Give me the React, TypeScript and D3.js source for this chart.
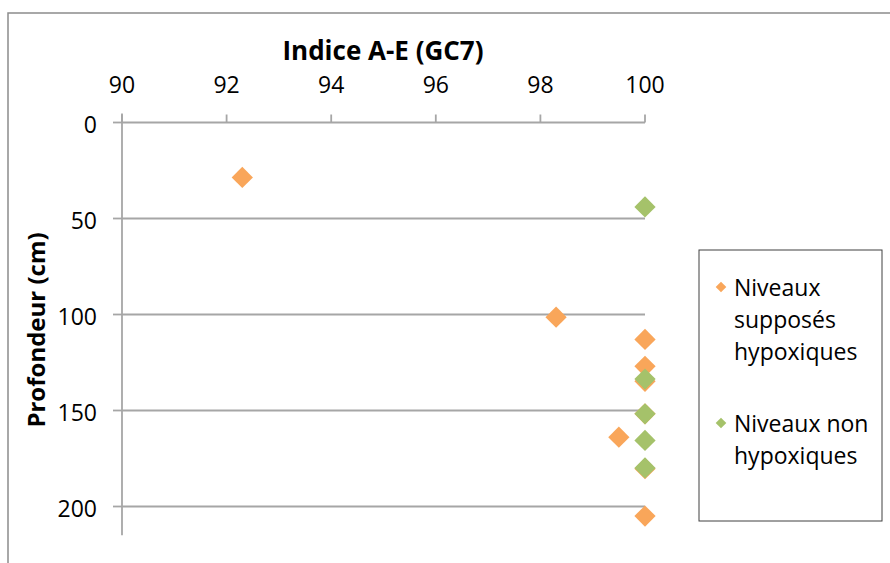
import React from "react";
import * as d3 from "d3";

// Sample depth (cm) and A-E index values for the GC7 core
const hypoxIndex = [92.3, 98.3, 100, 100, 100, 100, 99.5, 100, 100];
const hypoxDepth = [28.6, 101.4, 113, 127, 134.8, 151.7, 163.9, 180.3, 205];
const nonHypoxIndex = [100, 100, 100, 100, 100];
const nonHypoxDepth = [44, 133.6, 151.7, 165.6, 179.9];

const xTicks = [90, 92, 94, 96, 98, 100];
const yTicks = [0, 50, 100, 150, 200];

const seriesNames = ["Niveaux supposés hypoxiques", "Niveaux non hypoxiques"];
const legendLines = [["Niveaux", "supposés", "hypoxiques"], ["Niveaux non", "hypoxiques"]];

const ORANGE = "#F9A65A";
const GREEN = "#A5C26A";
const GRID = "#A6A6A6";
const FONT = "'Open Sans', 'Liberation Sans', sans-serif";

export default function App() {
  const width = 890;
  const height = 563;
  const x = d3.scaleLinear().domain([90, 100]).range([122, 645]);
  const y = d3.scaleLinear().domain([0, 215]).range([122.5, 535.3]);

  const diamond = d3.symbol().type(d3.symbolDiamond2).size(288)();
  const smallDiamond = d3.symbol().type(d3.symbolDiamond2).size(72)();

  const hypox = hypoxIndex.map((v, i) => ({ x: v, y: hypoxDepth[i] }));
  const nonHypox = nonHypoxIndex.map((v, i) => ({ x: v, y: nonHypoxDepth[i] }));

  const x0 = x(90);
  const x1 = x(100);
  const yAxisPos = y(0);

  return (
    <svg
      width={width}
      height={height}
      style={{ position: "absolute", left: 0, top: 0, background: "#fff" }}
    >
      <rect x={0} y={0} width={width} height={height} fill="#fff" />
      {/* chart frame */}
      <rect x={8} y={13} width={width} height={height} fill="none" stroke="#8C8C8C" strokeWidth={1.5} />

      {/* horizontal gridlines */}
      {yTicks.slice(1).map((t) => (
        <line key={"g" + t} x1={x0} x2={x1} y1={y(t)} y2={y(t)} stroke={GRID} strokeWidth={1.8} />
      ))}

      {/* x axis along the top */}
      <line x1={x0} x2={x1} y1={yAxisPos} y2={yAxisPos} stroke={GRID} strokeWidth={1.8} />
      {xTicks.map((t) => (
        <g key={"x" + t}>
          <line x1={x(t)} x2={x(t)} y1={yAxisPos - 8} y2={yAxisPos} stroke={GRID} strokeWidth={1.8} />
          <text x={x(t)} y={93} textAnchor="middle" fontFamily={FONT} fontSize={23} fill="#000">
            {t}
          </text>
        </g>
      ))}

      {/* y axis */}
      <line x1={x0} x2={x0} y1={yAxisPos - 9} y2={y(215)} stroke={GRID} strokeWidth={1.8} />
      {yTicks.map((t) => (
        <g key={"y" + t}>
          <line x1={x0 - 9} x2={x0} y1={y(t)} y2={y(t)} stroke={GRID} strokeWidth={1.8} />
          <text x={97} y={y(t) + 10} textAnchor="end" fontFamily={FONT} fontSize={23} fill="#000">
            {t}
          </text>
        </g>
      ))}

      {/* titles */}
      <text x={383} y={60} textAnchor="middle" fontFamily={FONT} fontSize={26} fontWeight="bold" fill="#000">
        Indice A-E (GC7)
      </text>
      <text
        transform={`translate(45, 330) rotate(-90)`}
        textAnchor="middle"
        fontFamily={FONT}
        fontSize={24}
        fontWeight="bold"
        fill="#000"
      >
        Profondeur (cm)
      </text>

      {/* data points */}
      <g>
        {hypox.map((d, i) => (
          <path key={"h" + i} d={diamond} transform={`translate(${x(d.x)},${y(d.y)})`} fill={ORANGE} />
        ))}
      </g>
      <g>
        {nonHypox.map((d, i) => (
          <path key={"n" + i} d={diamond} transform={`translate(${x(d.x)},${y(d.y)})`} fill={GREEN} />
        ))}
      </g>

      {/* legend */}
      <g>
        <rect x={699} y={250} width={183} height={271} fill="#fff" stroke="#404040" strokeWidth={1} />
        {seriesNames.map((name, si) => {
          const top = si === 0 ? 296 : 432;
          return (
            <g key={name}>
              <path
                d={smallDiamond}
                transform={`translate(721,${top - 9})`}
                fill={si === 0 ? ORANGE : GREEN}
              />
              {legendLines[si].map((line, li) => (
                <text key={li} x={734} y={top + li * 32} fontFamily={FONT} fontSize={23} fill="#000">
                  {line}
                </text>
              ))}
            </g>
          );
        })}
      </g>
    </svg>
  );
}
